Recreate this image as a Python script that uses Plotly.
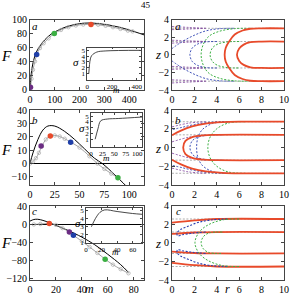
import plotly.graph_objects as go

W, H = 291, 296

# ---------------- left panels: F versus m ----------------
a_solid_m = [0, 3, 8, 15, 25, 40, 60, 85, 110, 150, 200, 240, 280, 320, 360, 400, 460]
a_solid_F = [0, 16, 30, 42, 53, 62, 71, 79, 84, 90, 94, 95, 94, 92, 89, 85, 78]
a_circ_m = [0, 2, 6, 12, 20, 27, 40, 55, 75, 98, 125, 155, 185, 215, 246, 275, 305, 335, 365, 395, 414]
a_circ_F = [0, 3, 15, 28, 40, 50, 59, 66, 73, 80, 85, 89, 91.5, 92.8, 93, 92.5, 91, 89, 86.5, 84, 83]
a_dot_m = [2, 27, 98, 246]
a_dot_F = [3, 50, 80, 93]

b_solid_m = [0, 3, 8, 13, 18, 25, 35, 45, 55, 65, 73, 85, 98]
b_solid_F = [0, 8, 18, 25, 28, 28, 24, 18, 11, 4, 0, -8, -17.5]
b_circ_m = [0, 3, 6, 9, 12, 16, 20.5, 25, 30, 35, 41, 50, 60, 68, 75, 82, 88.7]
b_circ_F = [0, 1.5, 4, 8, 13, 18, 20.5, 21, 20.2, 18.5, 16, 12, 5.5, 0, -4, -7.5, -10.6]
b_dot_m = [11.2, 20.5, 41, 88.7]
b_dot_F = [13.1, 20.5, 16, -10.6]

c_solid_m = [0, 3, 6, 10, 15, 20, 25, 30, 40, 50, 60, 70, 76]
c_solid_F = [7.5, 11, 11.5, 9, 4, -2, -8, -14, -28, -45, -66, -89, -106]
c_circ_m = [3, 8, 14.9, 20, 25, 30.4, 33.5, 40, 46, 52, 58, 64, 70, 76]
c_circ_F = [0, 1, 2, -1, -8, -16.7, -24, -37, -50, -63, -77, -89, -99, -108]
c_dot_m = [14.9, 30.4, 33.5, 58]
c_dot_F = [2, -16.7, -24, -77]

dot_colors_a = ["#6b2d83", "#1f3fa8", "#3cb043", "#e84a2a"]
dot_colors_b = ["#6b2d83", "#e84a2a", "#1f3fa8", "#3cb043"]
dot_colors_c = ["#e84a2a", "#6b2d83", "#1f3fa8", "#3cb043"]

# insets: sigma versus m
ia_m = [12, 18, 25, 36, 77, 150, 430]
ia_s = [0.9, 2.5, 3.5, 4.1, 4.7, 4.9, 5.0]
ib_m = [9, 15, 21, 35, 60, 110]
ib_s = [1.0, 2.8, 4.2, 4.5, 4.6, 4.85]
ic_m = [7, 12, 18, 24, 40, 60, 72]
ic_s = [3.0, 4.0, 4.8, 5.1, 4.9, 4.65, 4.55]

# ---------------- right panels: z versus r (upper halves, mirrored) ----------------
RED, GREEN, BLUE, PURPLE, GRAY = "#e84a2a", "#3cb043", "#2b3fb0", "#7a3a9a", "#777777"

# panel a
ra_level = [3.0, 1.5]
ra_red_out_r = [10, 8, 7, 6.3, 5.6, 5.1, 4.8, 4.7]
ra_red_out_z = [3.0, 3.0, 2.95, 2.75, 2.3, 1.5, 0.8, 0.0]
ra_red_in_r = [10, 8, 7.0, 6.4, 6.0, 5.8]
ra_red_in_z = [1.5, 1.5, 1.42, 1.15, 0.7, 0.0]
ra_grn_out_r = [7, 5.5, 4.2, 3.3, 2.8, 2.6]
ra_grn_out_z = [3.0, 2.95, 2.65, 2.1, 1.2, 0.0]
ra_grn_in_r = [6, 5.0, 4.1, 3.6, 3.4]
ra_grn_in_z = [1.5, 1.46, 1.22, 0.75, 0.0]
ra_blu_out_r = [5.5, 4.2, 3.0, 1.8, 0.8, 0.0]
ra_blu_out_z = [3.0, 2.95, 2.7, 2.1, 1.4, 0.7]
ra_blu_in_r = [4, 3.0, 2.3, 1.8, 1.6]
ra_blu_in_z = [1.5, 1.45, 1.22, 0.75, 0.0]
ra_pur_r = [[0, 1.5, 3], [0, 1.5, 3], [0, 1.5, 3], [0, 1.5, 3]]
ra_pur_z = [[3.2, 3.1, 3.0], [2.85, 2.92, 3.0], [1.65, 1.58, 1.5], [1.32, 1.42, 1.5]]

# panel b
rb_level = [2.75, 1.35]
rb_red_out_r = [10, 6, 4.5, 3.0, 1.8, 0.8, 0.0]
rb_red_out_z = [2.75, 2.75, 2.7, 2.55, 2.25, 1.8, 1.3]
rb_red_in_r = [10, 4, 2.8, 1.8, 1.2, 1.0]
rb_red_in_z = [1.35, 1.35, 1.3, 1.1, 0.7, 0.0]
rb_blu_out_r = [5, 3.5, 2.0, 0.9, 0.0]
rb_blu_out_z = [2.75, 2.7, 2.45, 2.15, 1.9]
rb_blu_in_r = [4.5, 3.2, 2.3, 1.8, 1.6]
rb_blu_in_z = [1.35, 1.3, 1.1, 0.7, 0.0]
rb_grn_out_r = [6.5, 5.0, 4.0, 3.4, 3.2]
rb_grn_out_z = [2.75, 2.6, 2.0, 1.1, 0.0]
rb_blu2_r = [5.0, 3.6, 2.7, 2.3, 2.2]
rb_blu2_z = [2.75, 2.55, 1.9, 1.0, 0.0]
rb_pur_r = [[0, 1.5, 3], [0, 1.5, 3]]
rb_pur_z = [[2.2, 2.6, 2.75], [0.6, 1.1, 1.35]]

# panel c
rc_level = [2.55, 1.15]
rc_red_out_r = [10, 4, 2.0, 0.0]
rc_red_out_z = [2.55, 2.55, 2.4, 2.15]
rc_red_in_r = [10, 4, 2.0, 0.0]
rc_red_in_z = [1.15, 1.15, 1.1, 0.95]
rc_blu_r = [3.0, 1.8, 0.9, 0.5, 0.45, 0.8, 1.5, 2.4, 3.5, 5.0]
rc_blu_z = [1.15, 1.02, 0.85, 0.75, 1.05, 1.45, 1.8, 2.2, 2.45, 2.55]
rc_grn_out_r = [6, 4.5, 3.2, 2.4, 2.05]
rc_grn_out_z = [2.55, 2.45, 1.9, 1.1, 0.0]
rc_grn_in_r = [4.5, 3.3, 2.8, 2.6]
rc_grn_in_z = [1.15, 1.05, 0.65, 0.0]

fig = go.Figure()
SERIF = "Liberation Serif"
FINE = "2px,1.6px"


def ax_pair(i):
    return ("x" if i == 1 else f"x{i}"), ("y" if i == 1 else f"y{i}")


def add_line(i, xs, ys, color, width=1.0, dash="solid", spline=True):
    xa, ya = ax_pair(i)
    fig.add_trace(go.Scatter(x=xs, y=ys, mode="lines", xaxis=xa, yaxis=ya,
                             line=dict(color=color, width=width, dash=dash,
                                       shape="spline" if spline else "linear"),
                             hoverinfo="skip", showlegend=False))


def add_circles(i, xs, ys):
    xa, ya = ax_pair(i)
    fig.add_trace(go.Scatter(x=xs, y=ys, mode="lines+markers", xaxis=xa, yaxis=ya,
                             line=dict(color="#8c8c8c", width=0.8, shape="spline"),
                             marker=dict(symbol="circle-open", size=3.5, color="#a8a8a8",
                                         line=dict(width=0.7)),
                             hoverinfo="skip", showlegend=False))


def add_dots(i, xs, ys, cols):
    xa, ya = ax_pair(i)
    fig.add_trace(go.Scatter(x=xs, y=ys, mode="markers", xaxis=xa, yaxis=ya,
                             marker=dict(size=5.5, color=cols),
                             hoverinfo="skip", showlegend=False))


def mirror(rs, zs):
    r = list(rs) + list(reversed(rs))[1:]
    z = list(zs) + [-v for v in reversed(zs)][1:]
    return r, z


def add_c(i, rs, zs, color, width, dash):
    r, z = mirror(rs, zs)
    add_line(i, r, z, color, width, dash)


def add_half_pair(i, rs, zs, color, width, dash):
    add_line(i, rs, zs, color, width, dash)
    add_line(i, rs, [-v for v in zs], color, width, dash)


# left panels
add_line(1, a_solid_m, a_solid_F, "black", 1.0)
add_circles(1, a_circ_m, a_circ_F)
add_dots(1, a_dot_m, a_dot_F, dot_colors_a)
add_line(3, b_solid_m, b_solid_F, "black", 1.0)
add_circles(3, b_circ_m, b_circ_F)
add_dots(3, b_dot_m, b_dot_F, dot_colors_b)
add_line(5, c_solid_m, c_solid_F, "black", 1.0)
add_circles(5, c_circ_m, c_circ_F)
add_dots(5, c_dot_m, c_dot_F, dot_colors_c)
# insets
add_line(7, ia_m, ia_s, "#333333", 0.9)
add_line(8, ib_m, ib_s, "#333333", 0.9)
add_line(9, ic_m, ic_s, "#333333", 0.9)

# right panel a
for lv in ra_level:
    for s in (1, -1):
        add_line(2, [0, 10], [s * lv, s * lv], GRAY, 0.6, FINE, False)
for pr, pz in zip(ra_pur_r, ra_pur_z):
    add_half_pair(2, pr, pz, PURPLE, 0.8, FINE)
add_half_pair(2, ra_blu_out_r, ra_blu_out_z, BLUE, 0.9, FINE)
add_c(2, ra_blu_in_r, ra_blu_in_z, BLUE, 0.9, FINE)
add_c(2, ra_grn_out_r, ra_grn_out_z, GREEN, 1.0, FINE)
add_c(2, ra_grn_in_r, ra_grn_in_z, GREEN, 1.0, FINE)
add_c(2, ra_red_out_r, ra_red_out_z, RED, 1.8, "solid")
add_c(2, ra_red_in_r, ra_red_in_z, RED, 1.8, "solid")

# right panel b
for lv in rb_level:
    for s in (1, -1):
        add_line(4, [0, 10], [s * lv, s * lv], GRAY, 0.6, FINE, False)
for pr, pz in zip(rb_pur_r, rb_pur_z):
    add_half_pair(4, pr, pz, PURPLE, 0.8, FINE)
add_half_pair(4, rb_blu_out_r, rb_blu_out_z, BLUE, 0.9, FINE)
add_c(4, rb_blu_in_r, rb_blu_in_z, BLUE, 0.9, FINE)
add_c(4, rb_grn_out_r, rb_grn_out_z, GREEN, 1.0, FINE)
add_c(4, rb_blu2_r, rb_blu2_z, BLUE, 0.9, FINE)
add_half_pair(4, rb_red_out_r, rb_red_out_z, RED, 1.8, "solid")
add_c(4, rb_red_in_r, rb_red_in_z, RED, 1.8, "solid")

# right panel c
for lv in rc_level:
    for s in (1, -1):
        add_line(6, [0, 10], [s * lv, s * lv], GRAY, 0.6, FINE, False)
add_half_pair(6, rc_red_out_r, rc_red_out_z, RED, 1.8, "solid")
add_half_pair(6, rc_red_in_r, rc_red_in_z, RED, 1.8, "solid")
add_half_pair(6, rc_blu_r, rc_blu_z, BLUE, 1.1, FINE)
add_c(6, rc_grn_out_r, rc_grn_out_z, GREEN, 1.0, FINE)
add_c(6, rc_grn_in_r, rc_grn_in_z, GREEN, 1.0, FINE)


def px(xp):
    return xp / W


def py(yp):
    return 1 - yp / H


LX = [px(30), px(144)]
RX = [px(172), px(284)]
ROWS = [[py(90), py(19.5)], [py(185), py(110)], [py(280), py(205.5)]]


def axis(domain, rng, tickvals, anchor, size=10, zeroline=False):
    return dict(domain=domain, range=rng, tickvals=tickvals, anchor=anchor,
                showticklabels=True, automargin=False,
                showgrid=False, zeroline=zeroline, zerolinecolor="black", zerolinewidth=1,
                showline=True, mirror="ticks", linecolor="#444444", linewidth=0.8,
                ticks="inside", ticklen=3, tickwidth=0.6, tickcolor="#444444",
                tickfont=dict(family=SERIF, size=size, color="black"))


lay = {}
lay["xaxis"] = axis(LX, [0, 460], [0, 100, 200, 300, 400], "y")
lay["yaxis"] = axis(ROWS[0], [-1, 100], [0, 20, 40, 60, 80, 100], "x", zeroline=True)
lay["xaxis3"] = axis(LX, [0, 115], [0, 25, 50, 75, 100], "y3")
lay["yaxis3"] = axis(ROWS[1], [-16, 40], [-10, 0, 10, 20, 30, 40], "x3", zeroline=True)
lay["xaxis5"] = axis(LX, [0, 88], [0, 20, 40, 60, 80], "y5")
lay["yaxis5"] = axis(ROWS[2], [-123, 42], [-120, -80, -40, 0, 40], "x5", zeroline=True)
for i, row in zip((2, 4, 6), ROWS):
    lay[f"xaxis{i}"] = axis(RX, [0, 10], [0, 2, 4, 6, 8, 10], f"y{i}")
    lay[f"yaxis{i}"] = axis(row, [-4, 4], [-4, -2, 0, 2, 4], f"x{i}")
lay["xaxis7"] = axis([px(87.3), px(140.5)], [0, 430], [0, 200, 400], "y7", size=7)
lay["yaxis7"] = axis([py(80), py(47.5)], [-0.2, 5.5], [1, 2, 3, 4, 5], "x7", size=7)
lay["xaxis8"] = axis([px(91), px(142)], [0, 110], [0, 25, 50, 75, 100], "y8", size=7)
lay["yaxis8"] = axis([py(146.7), py(113.3)], [-0.3, 5.5], [1, 2, 3, 4, 5], "x8", size=7)
lay["xaxis9"] = axis([px(86), px(142)], [0, 72], [0, 20, 40, 60], "y9", size=7)
lay["yaxis9"] = axis([py(242.7), py(208.3)], [1, 5.3], [1, 2, 3, 4, 5], "x9", size=7)
for k in ("xaxis7", "xaxis8", "xaxis9", "yaxis7", "yaxis8", "yaxis9"):
    lay[k]["ticklen"] = 2

anns = []


def label(text, xp, yp, size, italic=True):
    anns.append(dict(text=f"<i>{text}</i>" if italic else text, x=px(xp), y=py(yp),
                     xref="paper", yref="paper", showarrow=False,
                     xanchor="center", yanchor="middle",
                     font=dict(family=SERIF, size=size, color="black")))


label("45", 146, 5, 9, italic=False)
for yy in (56, 150, 243):
    label("F", 6, yy, 15)
for yy in (55, 148, 243):
    label("z", 158, yy, 13)
label("m", 89, 288.5, 12)
label("r", 227, 288.5, 12)
label("σ", 76, 62, 11)
label("m", 116, 90.5, 9)
label("σ", 82, 128, 11)
label("m", 106, 157.5, 9)
label("σ", 78, 223, 11)
label("m", 115, 251.5, 9)
for xx in (34.5, 178):
    label("a", xx, 25.5, 11)
    label("b", xx, 119.5, 11)
    label("c", xx, 211, 11)

fig.update_layout(template="none", width=W, height=H,
                  margin=dict(l=0, r=0, t=0, b=0, pad=0),
                  paper_bgcolor="white", plot_bgcolor="rgba(0,0,0,0)",
                  showlegend=False, annotations=anns, **lay)
fig.write_html("out.html")
